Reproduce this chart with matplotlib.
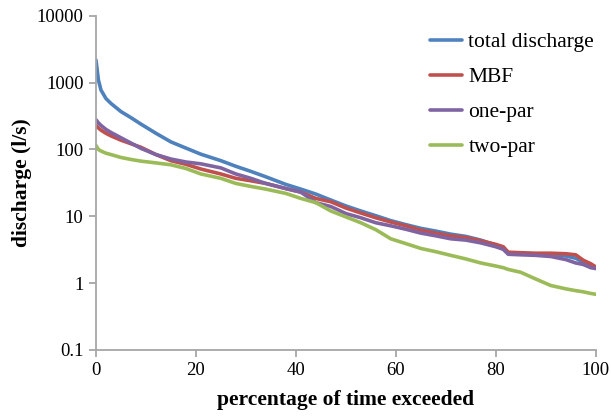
import matplotlib
matplotlib.use("Agg")
import matplotlib.pyplot as plt
from matplotlib.ticker import FixedLocator, FuncFormatter, NullLocator

plt.rcParams["font.family"] = ["Liberation Serif", "DejaVu Serif"]

# exceedance percentage shared by all curves
pct = [0, 0.5, 1, 2, 3, 5, 7, 9, 12, 15, 18, 21, 25, 28, 31, 34, 38, 41, 44,
       47, 50, 53, 56, 59, 62, 65, 68, 71, 74, 77, 80, 81.5, 82.5, 85, 88, 91,
       94, 96, 97.5, 99, 100]

total_discharge = [2200, 1100, 780, 580, 490, 370, 300, 240, 175, 130, 105, 85,
                   68, 56, 47, 39, 30, 25.5, 21.5, 17.5, 14.3, 12, 10.2, 8.6,
                   7.5, 6.6, 6.0, 5.4, 5.0, 4.4, 3.7, 3.3, 2.8, 2.75, 2.7,
                   2.65, 2.55, 2.35, 2.05, 1.85, 1.7]
mbf = [230, 210, 195, 175, 160, 138, 122, 108, 84, 68, 60, 51, 43, 37, 34, 31,
       26, 23, 18.5, 16.5, 13.3, 11.2, 9.5, 8.2, 7.2, 6.2, 5.6, 5.1, 4.8, 4.3,
       3.8, 3.5, 2.9, 2.85, 2.8, 2.8, 2.75, 2.65, 2.2, 1.95, 1.75]
one_par = [280, 250, 230, 200, 180, 150, 125, 104, 84, 72, 65, 61, 53, 43, 37,
           31, 26, 23, 16, 14, 11, 9.5, 8.0, 7.2, 6.4, 5.6, 5.1, 4.6, 4.4, 4.0,
           3.5, 3.2, 2.7, 2.65, 2.6, 2.5, 2.25, 2.0, 1.9, 1.7, 1.65]
two_par = [115, 100, 95, 88, 84, 76, 71, 67, 63, 59, 52, 43, 37, 31, 28, 25.5,
           22, 18.5, 16, 12, 9.8, 8.0, 6.3, 4.6, 3.9, 3.3, 2.95, 2.6, 2.3, 2.0,
           1.8, 1.7, 1.6, 1.45, 1.15, 0.92, 0.82, 0.77, 0.74, 0.7, 0.68]

series = [
    ("total discharge", total_discharge, "#4F81BD"),
    ("MBF", mbf, "#C0504D"),
    ("one-par", one_par, "#8064A2"),
    ("two-par", two_par, "#9BBB59"),
]

fig = plt.figure(figsize=(6.11, 4.19), dpi=100)
ax = fig.add_axes([0.157, 0.165, 0.818, 0.797])

for name, vals, color in series:
    ax.plot(pct, vals, color=color, lw=2.6, label=name, solid_capstyle="round")

ax.set_yscale("log")
ax.set_ylim(0.1, 10000)
ax.set_xlim(0, 100)
ax.yaxis.set_major_locator(FixedLocator([0.1, 1, 10, 100, 1000, 10000]))
ax.yaxis.set_minor_locator(NullLocator())
ax.yaxis.set_major_formatter(FuncFormatter(lambda v, _: f"{v:g}"))
ax.set_xticks([0, 20, 40, 60, 80, 100])

for side in ("top", "right"):
    ax.spines[side].set_visible(False)
for side in ("left", "bottom"):
    ax.spines[side].set_color("#a6a6a6")
    ax.spines[side].set_linewidth(1.3)
ax.tick_params(axis="both", direction="out", length=5, width=1.3,
               color="#a6a6a6", labelsize=13.5, labelcolor="black", pad=4)

ax.set_xlabel("percentage of time exceeded", fontsize=15.5, fontweight="bold",
              labelpad=8)
ax.set_ylabel("discharge (l/s)", fontsize=15.5, fontweight="bold", labelpad=3)

fig.legend(loc="upper left", bbox_to_anchor=(430 / 611, 1 - 32 / 419),
           frameon=False, fontsize=15.5, handlelength=1.5, handletextpad=0.28,
           labelspacing=0.7, borderpad=0, borderaxespad=0)

fig.savefig("out.png", dpi=100)
